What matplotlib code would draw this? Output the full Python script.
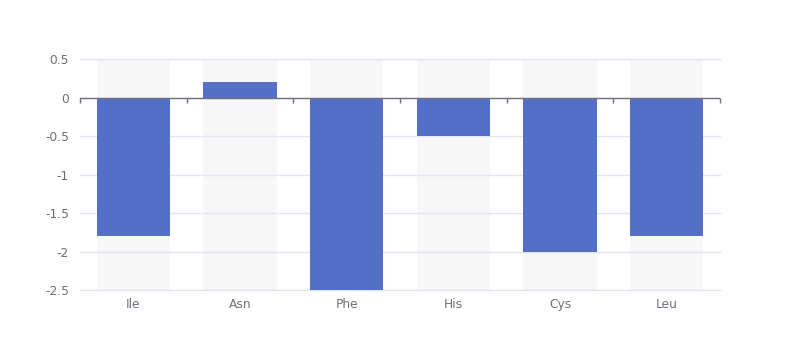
import numpy as np
import matplotlib
matplotlib.use("Agg")
import matplotlib.pyplot as plt

categories = ["Ile", "Asn", "Phe", "His", "Cys", "Leu"]
values = [-1.8, 0.2, -2.5, -0.5, -2.0, -1.8]
y_ticks = [0.5, 0, -0.5, -1, -1.5, -2, -2.5]
y_labels = ["0.5", "0", "-0.5", "-1", "-1.5", "-2", "-2.5"]

bar_color = "#5470c6"
shadow_color = "#f7f7f7"
grid_color = "#e0e6f1"
axis_color = "#6e7079"

fig = plt.figure(figsize=(8, 3.6), dpi=100)
ax = fig.add_axes([0.1, 0.1944, 0.8, 0.6417])

x = np.arange(len(categories))
width = 0.685
y_min, y_max = -2.5, 0.5

# background shadow bars, grid drawn over them
ax.bar(x, [y_max - y_min] * len(x), bottom=y_min, width=width,
       color=shadow_color, zorder=0.2)
ax.bar(x, values, width=width, color=bar_color, zorder=3)

ax.set_xlim(-0.5, len(categories) - 0.5)
ax.set_ylim(y_min, y_max)

ax.set_yticks(y_ticks)
ax.set_yticklabels(y_labels)
ax.yaxis.grid(True, color=grid_color, linewidth=1)
ax.set_axisbelow("line")
for gl in ax.get_ygridlines():
    gl.set_clip_on(False)
ax.tick_params(axis="y", length=0, pad=8, labelsize=8.8, labelcolor=axis_color)

# category labels at the bottom
ax.set_xticks(x)
ax.set_xticklabels(categories)
ax.tick_params(axis="x", length=0, pad=6, labelsize=8.8, labelcolor=axis_color)

for s in ax.spines.values():
    s.set_visible(False)

# zero axis line with ticks between categories
ax.axhline(0, color=axis_color, linewidth=1, zorder=4)
bounds = np.arange(len(categories) + 1) - 0.5
ax.vlines(bounds, 0, -0.065, color=axis_color, linewidth=1, zorder=4, clip_on=False)

fig.savefig("out.png", dpi=100)
